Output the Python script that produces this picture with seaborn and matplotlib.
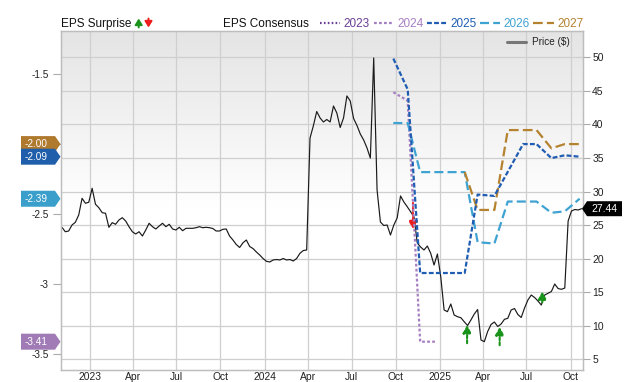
import numpy as np
import pandas as pd
import matplotlib
matplotlib.use("Agg")
import matplotlib.pyplot as plt
import matplotlib.dates as mdates
from matplotlib.patches import Polygon
from matplotlib.lines import Line2D
from matplotlib.ticker import FuncFormatter, FixedLocator
from matplotlib.transforms import IdentityTransform
import seaborn as sns

# ---------------- data ----------------
price_start = "2022-11-04"
price_values = [
    24.67, 24.01, 24.12, 25.01, 25.42, 26.50, 28.99, 28.25, 28.40, 30.48,
    28.10, 27.59, 26.85, 26.76, 24.67, 25.36, 25.12, 25.76, 26.10, 25.61,
    24.76, 24.01, 23.67, 24.01, 23.37, 24.27, 25.27, 24.76, 24.42, 24.86,
    25.27, 24.76, 25.12, 24.42, 24.27, 24.67, 24.16, 24.52, 24.52, 24.52,
    24.61, 24.76, 24.61, 24.67, 24.61, 24.49, 24.12, 24.12, 24.37, 24.42,
    23.37, 22.78, 22.11, 21.66, 22.36, 22.78, 21.81, 21.50, 20.99, 20.54,
    20.02, 19.60, 19.50, 19.80, 19.87, 19.80, 20.02, 19.80, 19.87, 19.65,
    20.02, 20.80, 21.21, 21.29, 37.97, 39.80, 41.92, 40.96, 40.36, 40.73,
    40.36, 42.74, 41.70, 39.54, 40.96, 44.24, 43.49, 40.88, 39.84, 38.57,
    37.68, 36.49, 34.98, 49.90, 30.23, 25.46, 24.94, 25.01, 23.52, 25.01,
    26.06, 29.34, 28.44, 27.74, 27.00, 26.25, 22.33, 21.73, 21.29, 21.88,
    20.80, 19.05, 20.69, 17.31, 12.35, 12.10, 13.24, 11.60, 11.35, 11.20,
    10.60, 10.04, 10.86, 11.75, 12.42, 7.88, 7.63, 9.15, 10.19, 10.56,
    9.89, 10.26, 10.96, 11.11, 12.35, 12.57, 11.68, 11.23, 12.65, 13.84,
    14.58, 14.21, 13.69, 13.09, 14.58, 14.84, 15.10, 16.22, 15.55, 15.43,
    15.62, 25.61, 27.10, 27.32, 27.25, 27.44,
]

cons_2024_dates = ["2024-09-26", "2024-10-26", "2024-11-21", "2024-12-25"]
cons_2024_vals = [-1.63, -1.69, -3.41, -3.41]

cons_2025_dates = ["2024-09-26", "2024-10-26", "2024-11-21", "2024-12-25", "2025-01-24",
                   "2025-02-22", "2025-03-21", "2025-04-25", "2025-06-24", "2025-07-22",
                   "2025-08-22", "2025-09-19", "2025-10-20"]
cons_2025_vals = [-1.39, -1.61, -2.92, -2.92, -2.92, -2.92, -2.36, -2.37, -2.00, -2.00,
                  -2.10, -2.08, -2.09]

cons_2026_dates = ["2024-09-26", "2024-10-26", "2024-11-21", "2024-12-25", "2025-01-24",
                   "2025-02-22", "2025-03-21", "2025-04-25", "2025-05-23", "2025-06-24",
                   "2025-07-22", "2025-08-22", "2025-09-19", "2025-10-20"]
cons_2026_vals = [-1.85, -1.85, -2.20, -2.20, -2.20, -2.20, -2.70, -2.71, -2.41, -2.41,
                  -2.41, -2.49, -2.48, -2.39]

cons_2027_dates = ["2025-02-22", "2025-03-21", "2025-04-25", "2025-05-23", "2025-06-24",
                   "2025-07-22", "2025-08-22", "2025-09-19", "2025-10-20"]
cons_2027_vals = [-2.20, -2.47, -2.47, -1.90, -1.90, -1.90, -2.03, -2.00, -2.00]

surprise_dates = ["2024-11-06", "2025-02-27", "2025-05-06", "2025-08-03"]
surprise_from = [28.3, 7.4, 7.1, 13.5]
surprise_to = [24.4, 10.1, 9.8, 15.1]

price_ticks = [5, 10, 15, 20, 25, 30, 35, 40, 45, 50]
eps_ticks = [-3.5, -3, -2.5, -2, -1.5]
legend_years = ["2023", "2024", "2025", "2026", "2027"]

# ---------------- style ----------------
sns.set_style("white")
plt.rcParams['font.family'] = ['Liberation Sans', 'DejaVu Sans']
plt.rcParams['axes.unicode_minus'] = False
plt.rcParams['lines.scale_dashes'] = False

W, H = 640, 382
fig = plt.figure(figsize=(W / 100, H / 100), dpi=100)
fig.patch.set_facecolor('white')


def fx(px):
    return px / W


def fy(py):
    return 1 - py / H


ax = fig.add_axes([fx(61), fy(370), (582.5 - 61) / W, (370 - 30.7) / H])
ax2 = ax.twinx()

col = {
    "2023": "#6a3d96",
    "2024": "#a57fc2",
    "2025": "#1f5db3",
    "2026": "#3ea2d2",
    "2027": "#b5822f",
}
badge_col = {
    "2024": "#a07bb6",
    "2025": "#1f5eaa",
    "2026": "#3a9fca",
    "2027": "#b07a2e",
}
dash = {
    "2023": (1.2, 1.6),
    "2024": (2.0, 1.6),
    "2025": (3.5, 1.6),
    "2026": (6.5, 3.0),
    "2027": (7.0, 3.0),
}

# ---------------- price ----------------
price_dates = pd.date_range(price_start, periods=len(price_values), freq="7D")
sns.lineplot(x=price_dates, y=price_values, ax=ax, color="#1a1a1a", linewidth=0.85)

# surprise arrows
for d, a, b in zip(surprise_dates, surprise_from, surprise_to):
    c = "#1a931a" if b > a else "#ee1c1c"
    ax.annotate("", xy=(pd.Timestamp(d), b), xytext=(pd.Timestamp(d), a),
                arrowprops=dict(arrowstyle="-|>,head_length=0.45,head_width=0.25",
                                color=c, lw=1.5, linestyle=(0, (2.2, 1.4)),
                                shrinkA=0, shrinkB=0), zorder=5)

# ---------------- consensus ----------------
for yr, ds, vs in [("2024", cons_2024_dates, cons_2024_vals),
                   ("2026", cons_2026_dates, cons_2026_vals),
                   ("2027", cons_2027_dates, cons_2027_vals),
                   ("2025", cons_2025_dates, cons_2025_vals)]:
    sns.lineplot(x=pd.to_datetime(ds), y=vs, ax=ax2, color=col[yr], linewidth=1.6)
    ax2.lines[-1].set_dashes(dash[yr])

# ---------------- axes ----------------
t = np.linspace(0, 1, 256)
g = np.clip((t - 0.48) / 0.52, 0, 1)
lev = 1 - g * (1 - 0.895)
grad = np.dstack([lev, lev, lev]).reshape(256, 1, 3)
ax.imshow(grad, extent=(0, 1, 0, 1), transform=ax.transAxes, aspect="auto",
          origin="lower", zorder=0, interpolation="bilinear")
ax.set_xlim(pd.Timestamp("2022-11-02"), pd.Timestamp("2025-10-26"))
ax.set_ylim(3.41, 53.96)
ax2.set_ylim(-3.612, -1.191)

ax.set_axisbelow(True)
ax.grid(True, color="#cfcfcf", linewidth=0.9)
ax2.grid(False)

ax.xaxis.set_major_locator(mdates.MonthLocator(bymonth=[1, 4, 7, 10]))
ax.xaxis.set_major_formatter(FuncFormatter(
    lambda v, p: mdates.num2date(v).strftime("%Y") if mdates.num2date(v).month == 1
    else mdates.num2date(v).strftime("%b")))
ax.tick_params(axis="x", length=0, labelsize=7.4, pad=1.5, labelcolor="#222222")

ax.yaxis.tick_right()
ax.yaxis.set_major_locator(FixedLocator(price_ticks))
ax.yaxis.set_major_formatter(FuncFormatter(lambda v, p: f"{v:g}"))
ax.tick_params(axis="y", length=5, width=0.8, color="#aaaaaa", labelsize=7.5,
               pad=2, labelcolor="#222222")

ax2.yaxis.tick_left()
ax2.yaxis.set_major_locator(FixedLocator(eps_ticks))
# the -2 label sits behind the -2.00 badge in the reference, so it is left blank
ax2.yaxis.set_major_formatter(FuncFormatter(lambda v, p: "" if abs(v + 2) < 1e-9 else f"{v:g}"))
ax2.tick_params(axis="y", length=6, width=0.8, color="#aaaaaa", labelsize=7.2,
                pad=3, labelcolor="#222222")

for a in (ax, ax2):
    a.set_xlabel("")
    a.set_ylabel("")
    for s in a.spines.values():
        s.set_color("#bdbdbd")
        s.set_linewidth(0.9)

# ---------------- badges ----------------
fig.canvas.draw()
xref = mdates.date2num(pd.Timestamp("2025-01-01"))


def left_badge(val, color):
    yd = ax2.transData.transform((xref, val))[1]
    x0, x1, xt, hh = 21, 55, 60.5, 8
    poly = Polygon([(x0, yd - hh), (x1, yd - hh), (xt, yd), (x1, yd + hh), (x0, yd + hh)],
                   closed=True, facecolor=color, edgecolor="none",
                   transform=IdentityTransform(), zorder=10)
    fig.add_artist(poly)
    fig.text(fx(25), yd / H, f"{val:.2f}", color="white", fontsize=7.2,
             va="center", ha="left", zorder=11)


left_badge(cons_2027_vals[-1], badge_col["2027"])
left_badge(cons_2025_vals[-1], badge_col["2025"])
left_badge(cons_2026_vals[-1], badge_col["2026"])
left_badge(cons_2024_vals[-1], badge_col["2024"])

last_p = price_values[-1]
yd = ax.transData.transform((xref, last_p))[1]
poly = Polygon([(582, yd), (587, yd - 7.5), (622, yd - 7.5), (622, yd + 7.5), (587, yd + 7.5)],
               closed=True, facecolor="black", edgecolor="none",
               transform=IdentityTransform(), zorder=10)
fig.add_artist(poly)
fig.text(fx(604.5), yd / H, f"{last_p:.2f}", color="white", fontsize=7.5,
         va="center", ha="center", zorder=11)

# ---------------- top legend ----------------
base = fy(26.7)
fs = 8.5
fig.text(fx(61), base, "EPS Surprise", fontsize=fs, color="#111111", va="baseline")
for xc, up, c in [(138.7, True, "#1a931a"), (148.5, False, "#ee1c1c")]:
    y_a, y_b = (H - 27.5, H - 18.5) if up else (H - 18.5, H - 27.5)
    ax.annotate("", xy=(xc, y_b), xycoords="figure pixels",
                xytext=(xc, y_a), textcoords="figure pixels",
                arrowprops=dict(arrowstyle="-|>,head_length=0.35,head_width=0.22",
                                color=c, lw=1.4, shrinkA=0, shrinkB=0),
                annotation_clip=False)

fig.text(fx(222.8), base, "EPS Consensus", fontsize=fs, color="#111111", va="baseline")
samples = [(320, 340, 343.8), (374, 394, 397), (426.7, 448, 450.5),
           (480, 500, 503), (533, 554, 557)]
for yr, (s0, s1, tx) in zip(legend_years, samples):
    ln = Line2D([fx(s0), fx(s1)], [fy(23.0), fy(23.0)], transform=fig.transFigure,
                color=col[yr], linewidth=1.6)
    ln.set_dashes(dash[yr])
    fig.add_artist(ln)
    fig.text(fx(tx), base, yr, fontsize=fs, color=col[yr], va="baseline")

# price legend inside plot
fig.add_artist(Line2D([fx(507), fx(526)], [fy(41.8), fy(41.8)], transform=fig.transFigure,
                      color="#777777", linewidth=2.2))
fig.text(fx(532), fy(42.3), "Price ($)", fontsize=7.2, color="#222222", va="center")

fig.savefig("out.png", dpi=100)
